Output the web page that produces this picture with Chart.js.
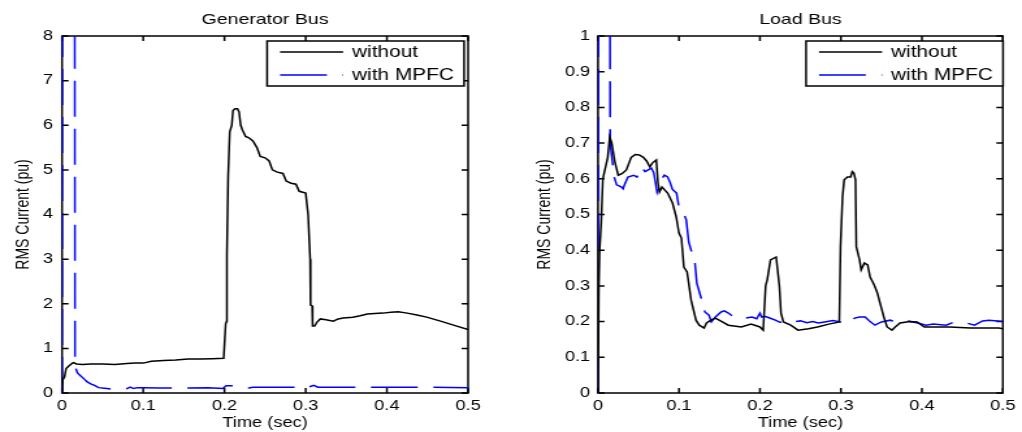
<!DOCTYPE html>
<html>
<head>
<meta charset="utf-8">
<title>RMS Current</title>
<script src="https://cdn.jsdelivr.net/npm/chart.js@4.4.1/dist/chart.umd.min.js"></script>
<style>
  body { margin: 0; background: #fff; }
  /* each panel is drawn narrow and widened, like the original figure export */
  .panel { position: absolute; top: 0; width: 393px; height: 432px; transform: scaleX(1.3003); transform-origin: 0 0; }
</style>
</head>
<body>
<div class="panel" style="left:0"><canvas id="genChart" width="393" height="432"></canvas></div>
<div class="panel" style="left:511px"><canvas id="loadChart" width="393" height="432"></canvas></div>
<script>
// ---- data ----
const xTickLabels = ['0', '0.1', '0.2', '0.3', '0.4', '0.5'];
const genTickLabels = ['0', '1', '2', '3', '4', '5', '6', '7', '8'];
const loadTickLabels = ['0', '0.1', '0.2', '0.3', '0.4', '0.5', '0.6', '0.7', '0.8', '0.9', '1'];
const seriesNames = ['without', 'with MPFC'];

// generator bus, without MPFC
const genTimeWithout = [0, 0.001, 0.003, 0.005, 0.008, 0.012, 0.014, 0.018, 0.025, 0.035, 0.05, 0.065, 0.08, 0.09, 0.1,
  0.11, 0.125, 0.14, 0.155, 0.17, 0.185, 0.199, 0.2015, 0.2025, 0.203, 0.2045, 0.2065, 0.209, 0.2105, 0.213, 0.216,
  0.218, 0.22, 0.222, 0.226, 0.23, 0.235, 0.24, 0.244, 0.25, 0.255, 0.259, 0.265, 0.272, 0.276, 0.282, 0.288, 0.292,
  0.3, 0.303, 0.3055, 0.306, 0.308, 0.3085, 0.311, 0.314, 0.318, 0.325, 0.334, 0.34, 0.346, 0.358, 0.367, 0.376,
  0.385, 0.395, 0.405, 0.414, 0.425, 0.437, 0.449, 0.466, 0.482, 0.5];
const genWithout = [0, 0.3, 0.36, 0.55, 0.6, 0.66, 0.68, 0.65, 0.64, 0.65, 0.65, 0.64, 0.66, 0.67, 0.67,
  0.71, 0.73, 0.74, 0.76, 0.76, 0.77, 0.78, 1.55, 1.6, 3.1, 4.85, 5.85, 6.0, 6.33, 6.37, 6.37,
  6.3, 6.0, 5.9, 5.75, 5.72, 5.65, 5.5, 5.3, 5.27, 5.2, 5.0, 4.95, 4.92, 4.75, 4.7, 4.68, 4.52,
  4.48, 4.0, 3.0, 1.97, 1.95, 1.5, 1.5, 1.59, 1.66, 1.64, 1.61, 1.66, 1.68, 1.7, 1.73, 1.77,
  1.78, 1.79, 1.81, 1.82, 1.79, 1.75, 1.7, 1.61, 1.52, 1.42];

// generator bus, with MPFC
const genTimeMpfc = [0, 0.0006, 0.0155, 0.016, 0.017, 0.019, 0.022, 0.025, 0.028, 0.031, 0.036, 0.04, 0.045, 0.055,
  0.065, 0.075, 0.08, 0.084, 0.088, 0.093, 0.1, 0.12, 0.15, 0.18, 0.198, 0.202, 0.215, 0.225, 0.23, 0.235, 0.26,
  0.29, 0.297, 0.303, 0.31, 0.315, 0.35, 0.4, 0.45, 0.5];
const genMpfc = [0, 12, 12, 0.65, 0.55, 0.45, 0.4, 0.35, 0.3, 0.25, 0.2, 0.17, 0.12, 0.1,
  0.08, 0.08, 0.1, 0.13, 0.1, 0.12, 0.12, 0.11, 0.11, 0.12, 0.1, 0.16, 0.16, 0.13, 0.11, 0.13, 0.13,
  0.13, 0.1, 0.13, 0.17, 0.13, 0.13, 0.13, 0.13, 0.12];

// load bus, without MPFC
const loadTimeWithout = [0, 0.001, 0.002, 0.004, 0.006, 0.009, 0.012, 0.0145, 0.017, 0.021, 0.025, 0.03, 0.035, 0.041,
  0.046, 0.051, 0.056, 0.06, 0.064, 0.067, 0.072, 0.074, 0.076, 0.079, 0.086, 0.092, 0.0966, 0.1, 0.103, 0.106,
  0.11, 0.115, 0.121, 0.125, 0.131, 0.134, 0.14, 0.145, 0.153, 0.161, 0.177, 0.189, 0.2, 0.204, 0.207, 0.209,
  0.213, 0.22, 0.224, 0.226, 0.229, 0.238, 0.247, 0.26, 0.271, 0.285, 0.298, 0.2995, 0.302, 0.304, 0.308, 0.312,
  0.314, 0.316, 0.318, 0.319, 0.323, 0.325, 0.329, 0.333, 0.336, 0.341, 0.345, 0.349, 0.353, 0.357, 0.363, 0.367,
  0.373, 0.385, 0.394, 0.403, 0.434, 0.46, 0.495, 0.5];
const loadWithout = [0, 0.3, 0.4, 0.48, 0.6, 0.63, 0.66, 0.717, 0.7, 0.645, 0.61, 0.615, 0.625, 0.66,
  0.668, 0.667, 0.66, 0.65, 0.633, 0.644, 0.653, 0.59, 0.563, 0.577, 0.56, 0.532, 0.493, 0.448, 0.434, 0.353,
  0.339, 0.26, 0.204, 0.19, 0.182, 0.196, 0.205, 0.21, 0.2, 0.19, 0.185, 0.193, 0.185, 0.176, 0.3, 0.317,
  0.373, 0.381, 0.3, 0.224, 0.199, 0.19, 0.176, 0.18, 0.185, 0.193, 0.199, 0.41, 0.55, 0.597, 0.605, 0.605,
  0.62, 0.616, 0.597, 0.41, 0.373, 0.345, 0.364, 0.359, 0.325, 0.303, 0.28, 0.246, 0.213, 0.185, 0.176, 0.185,
  0.196, 0.2, 0.199, 0.185, 0.185, 0.182, 0.182, 0.18];

// load bus, with MPFC
const loadTimeMpfc = [0, 0.0006, 0.0145, 0.015, 0.018, 0.02, 0.023, 0.026, 0.029, 0.031, 0.033, 0.037, 0.044, 0.048,
  0.054, 0.058, 0.062, 0.066, 0.069, 0.073, 0.078, 0.082, 0.086, 0.089, 0.092, 0.097, 0.1, 0.104, 0.109, 0.112,
  0.115, 0.119, 0.122, 0.127, 0.132, 0.137, 0.14, 0.145, 0.152, 0.156, 0.161, 0.168, 0.174, 0.182, 0.19, 0.196,
  0.2, 0.202, 0.206, 0.212, 0.219, 0.225, 0.231, 0.24, 0.25, 0.258, 0.265, 0.272, 0.28, 0.29, 0.298, 0.305,
  0.312, 0.317, 0.323, 0.33, 0.336, 0.342, 0.35, 0.361, 0.37, 0.381, 0.395, 0.405, 0.414, 0.43, 0.44, 0.455,
  0.465, 0.475, 0.483, 0.5];
const loadMpfc = [0, 1.5, 1.5, 0.7, 0.644, 0.605, 0.583, 0.58, 0.577, 0.572, 0.585, 0.605, 0.61, 0.605,
  0.633, 0.62, 0.625, 0.63, 0.616, 0.563, 0.597, 0.61, 0.605, 0.59, 0.57, 0.56, 0.52, 0.513, 0.485, 0.423,
  0.4, 0.381, 0.308, 0.269, 0.227, 0.218, 0.199, 0.213, 0.227, 0.23, 0.224, 0.212, 0.207, 0.21, 0.213, 0.208,
  0.224, 0.213, 0.215, 0.21, 0.204, 0.198, 0.204, 0.199, 0.202, 0.197, 0.2, 0.196, 0.199, 0.203, 0.2, 0.193,
  0.199, 0.21, 0.213, 0.213, 0.2, 0.19, 0.199, 0.204, 0.196, 0.202, 0.196, 0.19, 0.193, 0.19, 0.199, 0.196,
  0.19, 0.202, 0.204, 0.2];

// ---- drawing ----
const FONT = 'Liberation Sans, Arial, Helvetica, sans-serif';
const TICK_LEN = 5;
Chart.defaults.font.family = FONT;
Chart.defaults.color = '#000';

function toPoints(xs, ys) {
  return xs.map((x, i) => ({ x, y: ys[i] }));
}

// box round the axes with inward tick marks on all four sides
const boxFrame = {
  id: 'boxFrame',
  beforeDatasetsDraw(chart) {
    const { ctx, chartArea: a, scales } = chart;
    ctx.save();
    ctx.strokeStyle = '#000';
    ctx.lineWidth = 1.5;
    ctx.strokeRect(a.left, a.top, a.right - a.left, a.bottom - a.top);
    ctx.beginPath();
    scales.x.ticks.forEach((t) => {
      const px = scales.x.getPixelForValue(t.value);
      ctx.moveTo(px, a.bottom);
      ctx.lineTo(px, a.bottom - TICK_LEN);
      ctx.moveTo(px, a.top);
      ctx.lineTo(px, a.top + TICK_LEN);
    });
    scales.y.ticks.forEach((t) => {
      const py = scales.y.getPixelForValue(t.value);
      ctx.moveTo(a.left, py);
      ctx.lineTo(a.left + TICK_LEN, py);
      ctx.moveTo(a.right, py);
      ctx.lineTo(a.right - TICK_LEN, py);
    });
    ctx.stroke();
    ctx.restore();
  },
};

// legend box sitting inside the plot, top right
const boxLegend = {
  id: 'boxLegend',
  afterDatasetsDraw(chart, args, opts) {
    const { ctx } = chart;
    const left = opts.left;
    const top = 41;
    ctx.save();
    ctx.fillStyle = '#fff';
    ctx.fillRect(left, top, 151.5, 45);
    ctx.strokeStyle = '#000';
    ctx.lineWidth = 1.5;
    ctx.strokeRect(left, top, 151.5, 45);
    ctx.font = `16px ${FONT}`;
    ctx.textBaseline = 'middle';
    ctx.textAlign = 'left';
    chart.data.datasets.forEach((ds, i) => {
      const y = top + 11 + i * 23;
      ctx.beginPath();
      ctx.strokeStyle = ds.borderColor;
      ctx.lineWidth = ds.borderWidth;
      ctx.setLineDash(ds.borderDash || []);
      ctx.moveTo(left + 10, y);
      ctx.lineTo(left + 58.5, y);
      ctx.stroke();
      ctx.setLineDash([]);
      ctx.fillStyle = '#000';
      ctx.fillText(ds.label, left + 65.4, y + 1);
    });
    ctx.restore();
  },
};

function makeChart(id, cfg) {
  return new Chart(document.getElementById(id), {
    type: 'line',
    data: {
      datasets: [
        { label: seriesNames[0], data: cfg.without, borderColor: '#000', borderWidth: 1.5 },
        { label: seriesNames[1], data: cfg.mpfc, borderColor: '#0000ff', borderWidth: 1.5, borderDash: [36, 12] },
      ],
    },
    options: {
      responsive: false,
      animation: false,
      devicePixelRatio: 1,
      elements: { point: { radius: 0 }, line: { tension: 0 } },
      layout: { padding: { left: 0, top: 0, bottom: 0, right: cfg.rightPad } },
      plugins: {
        legend: { display: false },
        tooltip: { enabled: false },
        title: {
          display: true,
          text: cfg.title,
          fullSize: false,
          color: '#000',
          font: { size: 15, weight: 'normal' },
          padding: { top: 11, bottom: 7 },
        },
        boxLegend: { left: cfg.legendLeft },
      },
      scales: {
        x: {
          type: 'linear',
          min: 0,
          max: 0.5,
          afterFit: (s) => { s.height = 39; },
          grid: { display: false, drawTicks: false },
          border: { display: false },
          ticks: {
            stepSize: 0.1,
            autoSkip: false,
            maxRotation: 0,
            padding: 5,
            font: { size: 14 },
            callback: (v, i) => xTickLabels[i],
          },
          title: { display: true, text: 'Time (sec)', font: { size: 14 }, padding: { top: 0, bottom: 0 } },
        },
        y: {
          min: 0,
          max: cfg.yMax,
          afterFit: (s) => { s.width = cfg.axisWidth; },
          grid: { display: false, drawTicks: false },
          border: { display: false },
          ticks: {
            stepSize: cfg.yStep,
            autoSkip: false,
            padding: cfg.tickPad,
            font: { size: 14 },
            callback: (v, i) => cfg.yLabels[i],
          },
          title: {
            display: true,
            text: 'RMS Current (pu)',
            font: { size: 14 },
            padding: { top: cfg.titlePad, bottom: 0 },
          },
        },
      },
    },
    plugins: [boxFrame, boxLegend],
  });
}

makeChart('genChart', {
  title: 'Generator Bus',
  without: toPoints(genTimeWithout, genWithout),
  mpfc: toPoints(genTimeMpfc, genMpfc),
  yMax: 8,
  yStep: 1,
  yLabels: genTickLabels,
  axisWidth: 47.7,
  rightPad: 33,
  tickPad: 7,
  titlePad: 9.3,
  legendLeft: 205.4,
});

makeChart('loadChart', {
  title: 'Load Bus',
  without: toPoints(loadTimeWithout, loadWithout),
  mpfc: toPoints(loadTimeMpfc, loadMpfc),
  yMax: 1,
  yStep: 0.1,
  yLabels: loadTickLabels,
  axisWidth: 66.9,
  rightPad: 11.5,
  tickPad: 6,
  titlePad: 17.8,
  legendLeft: 226.9,
});
</script>
</body>
</html>
